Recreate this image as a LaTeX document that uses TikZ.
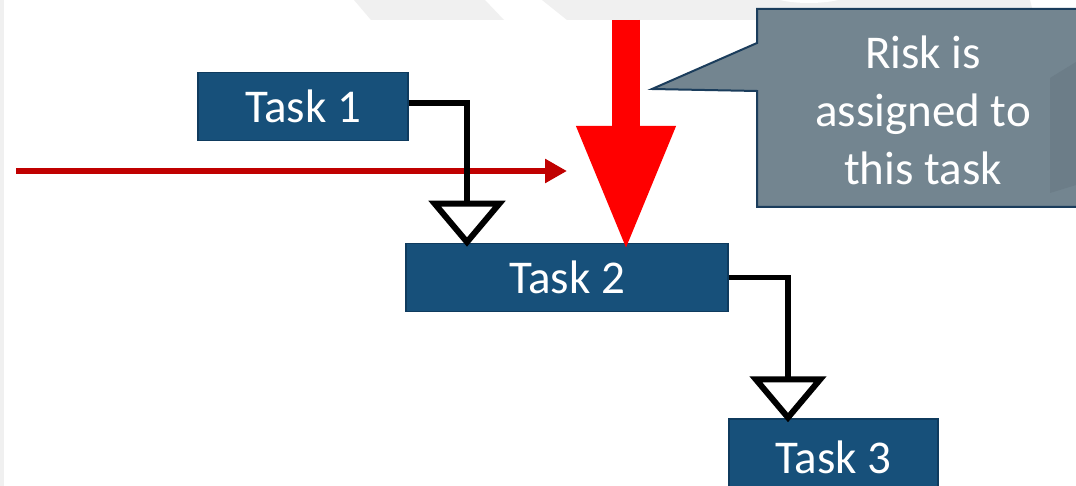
\documentclass[tikz,border=0pt]{standalone}
\usepackage{fontspec}
\setmainfont{Carlito}
\usetikzlibrary{arrows.meta}
\definecolor{taskblue}{HTML}{17507A}
\definecolor{taskedge}{HTML}{0F3B5E}
\definecolor{calloutfill}{HTML}{738590}
\definecolor{calloutshade}{HTML}{6C7D88}
\definecolor{calloutedge}{HTML}{1B3D5C}
\definecolor{darkred}{HTML}{C00000}
\definecolor{bggray}{HTML}{F0F0F0}
\begin{document}
\begin{tikzpicture}[x=1pt,y=-1pt,
  taskbox/.style={draw=taskedge, line width=1.5pt, fill=taskblue, text=white,
    font=\fontsize{47}{57}\selectfont, inner sep=0pt, minimum height=68pt},
  flow/.style={line width=5.5pt, line join=miter, shorten >=-4pt,
    -{Triangle[open, length=46pt, width=76pt, line width=6pt, fill=white]}},
  calloutbox/.style={fill=calloutfill, draw=calloutedge, line width=2pt},
  callouttext/.style={text=white, align=center, font=\fontsize{47}{58}\selectfont, inner sep=0pt}
]
\useasboundingbox (0,0) rectangle (1076,486);
\clip (0,0) rectangle (1076,486);
\fill[white] (0,0) rectangle (1076,486);
% faint background
\fill[bggray] (0,0) rectangle (4,486);
\fill[bggray] (354,0) -- (485,0) -- (504,20) -- (371,20) -- cycle;
\fill[bggray] (542,0) -- (1030,0) -- (1035,20) -- (567,20) -- cycle;
\fill[white] (809,-9) ellipse (44pt and 12pt);

% task boxes
\node[taskbox, minimum width=210pt] (t1) at (303,106.5) {Task 1};
\node[taskbox, minimum width=322pt] (t2) at (567,277.5) {Task 2};
\node[taskbox, minimum width=209pt, minimum height=76pt] (t3) at (833.5,457) {Task 3};

% red horizontal arrow
\coordinate (rs) at (16,171);
\coordinate (re) at (567,171);
\draw[darkred, line width=6pt, -{Triangle[length=22pt,width=23pt]}] (rs) -- (re);

% dependency connectors
\coordinate (x1) at (467,0);
\coordinate (x2) at (788,0);
\draw[flow] ([yshift=3.5pt]t1.east) -| (x1 |- t2.north);
\draw[flow] (t2.east) -| (x2 |- t3.north);

% big red arrow
\coordinate (bs) at (626,20);
\coordinate (be) at (626,252);
\draw[red, line width=28pt, -{Triangle[length=126pt,width=91pt]}] (bs) -- (be);

% callout
\draw[calloutbox] (757,9) -- (1090,9) -- (1090,207) -- (757,207) -- (757,91) -- (652,89) -- (757,43) -- cycle;
\fill[calloutshade] (1050,78) -- (1076,62) -- (1076,185) -- (1050,193) -- cycle;
\node[callouttext] (risk) at (923,110) {Risk is\\assigned to\\this task};
\end{tikzpicture}
\end{document}
